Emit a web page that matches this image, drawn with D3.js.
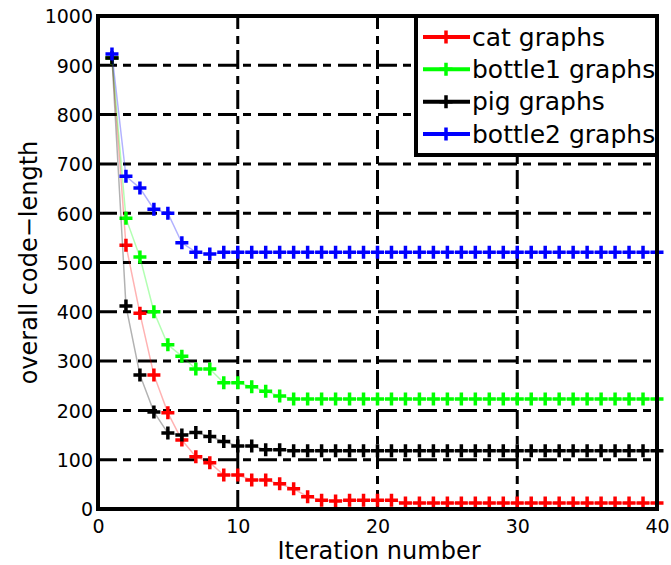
<!DOCTYPE html>
<html>
<head>
<meta charset="utf-8">
<script src="https://cdn.jsdelivr.net/npm/d3@7"></script>
<style>
  html, body { margin: 0; padding: 0; background: #fff; }
  svg { display: block; }
  text { font-family: "DejaVu Sans", Verdana, sans-serif; fill: #000; }
</style>
</head>
<body>
<svg id="chart" width="671" height="565"></svg>
<script>
// Iteration index for every recorded point
const iterations = [1, 2, 3, 4, 5, 6, 7, 8, 9, 10, 11, 12, 13, 14, 15, 16, 17, 18, 19, 20,
                    21, 22, 23, 24, 25, 26, 27, 28, 29, 30, 31, 32, 33, 34, 35, 36, 37, 38, 39, 40];

// Overall code-length per iteration, one array per graph set
const catGraphs = [915, 535, 397, 272, 195, 140, 106, 94, 69, 69, 59, 59, 51, 41, 25, 18, 16, 18, 18, 18,
                   18, 12, 12, 12, 12, 12, 12, 12, 12, 12, 12, 12, 12, 12, 12, 12, 12, 12, 12, 12];
const bottle1Graphs = [915, 590, 511, 400, 333, 310, 284, 284, 256, 256, 248, 239, 229, 223, 223, 223, 223, 223, 223, 223,
                       223, 223, 223, 223, 223, 223, 223, 223, 223, 223, 223, 223, 223, 223, 223, 223, 223, 223, 223, 223];
const pigGraphs = [915, 412, 272, 197, 154, 150, 155, 147, 137, 128, 128, 120, 120, 118, 118, 118, 118, 118, 118, 118,
                   118, 118, 118, 118, 118, 118, 118, 118, 118, 118, 118, 118, 118, 118, 118, 118, 118, 118, 118, 118];
const bottle2Graphs = [923, 675, 651, 608, 600, 540, 521, 517, 521, 521, 521, 521, 521, 521, 521, 521, 521, 521, 521, 521,
                       521, 521, 521, 521, 521, 521, 521, 521, 521, 521, 521, 521, 521, 521, 521, 521, 521, 521, 521, 521];

const seriesNames = ["cat graphs", "bottle1 graphs", "pig graphs", "bottle2 graphs"];
const seriesColors = ["#ff0000", "#00ff00", "#000000", "#0000ff"];
const seriesValues = [catGraphs, bottle1Graphs, pigGraphs, bottle2Graphs];

const xTicks = [0, 10, 20, 30, 40];
const yTicks = [0, 100, 200, 300, 400, 500, 600, 700, 800, 900, 1000];

const xTitle = "Iteration number";
const yTitle = "overall code\u2212length";

// ---- layout ----
const svg = d3.select("#chart");
const plot = { left: 98, right: 657, top: 16, bottom: 509 };

const x = d3.scaleLinear().domain([0, 40]).range([plot.left, plot.right]);
const y = d3.scaleLinear().domain([0, 1000]).range([plot.bottom, plot.top]);

const gridDash = "19 6 8 7";

// horizontal grid lines
svg.append("g")
  .selectAll("line")
  .data(yTicks.filter(v => v > 0 && v < 1000))
  .join("line")
  .attr("x1", plot.left).attr("x2", plot.right)
  .attr("y1", d => y(d)).attr("y2", d => y(d))
  .attr("stroke", "#000").attr("stroke-width", 3)
  .attr("stroke-dasharray", gridDash);

// vertical grid lines
svg.append("g")
  .selectAll("line")
  .data(xTicks.filter(v => v > 0 && v < 40))
  .join("line")
  .attr("x1", d => x(d)).attr("x2", d => x(d))
  .attr("y1", plot.bottom).attr("y2", plot.top)
  .attr("stroke", "#000").attr("stroke-width", 3)
  .attr("stroke-dasharray", gridDash);

// series: thin connecting lines then plus markers
const line = d3.line()
  .x((d, i) => x(iterations[i]))
  .y(d => y(d));

const plusPath = s => {
  const h = s / 2;
  return `M${-h},0H${h}M0,${-h}V${h}`;
};

seriesValues.forEach((vals, k) => {
  const g = svg.append("g");
  g.append("path")
    .attr("d", line(vals))
    .attr("fill", "none")
    .attr("stroke", seriesColors[k])
    .attr("stroke-width", 1.5)
    .attr("stroke-opacity", 0.3);
  g.selectAll("path.mk")
    .data(vals)
    .join("path")
    .attr("class", "mk")
    .attr("transform", (d, i) => `translate(${x(iterations[i])},${y(d)})`)
    .attr("d", plusPath(13))
    .attr("stroke", seriesColors[k])
    .attr("stroke-width", 3.5)
    .attr("fill", "none");
});

// axes frame (drawn over the data)
svg.append("rect")
  .attr("x", plot.left).attr("y", plot.top)
  .attr("width", plot.right - plot.left).attr("height", plot.bottom - plot.top)
  .attr("fill", "none").attr("stroke", "#000").attr("stroke-width", 4);

// tick labels
const xAxis = d3.axisBottom(x).tickValues(xTicks).tickSize(0).tickPadding(0).tickFormat(d3.format("d"));
const gx = svg.append("g").attr("transform", `translate(0,${plot.bottom})`).call(xAxis);
gx.select(".domain").remove();
gx.selectAll("text")
  .attr("dy", null).attr("y", 24)
  .style("font-size", "19px")
  .style("font-family", "'DejaVu Sans', Verdana, sans-serif");

const yAxis = d3.axisLeft(y).tickValues(yTicks).tickSize(0).tickPadding(0).tickFormat(d3.format("d"));
const gy = svg.append("g").attr("transform", `translate(${plot.left},0)`).call(yAxis);
gy.select(".domain").remove();
gy.selectAll("text")
  .attr("x", -5).attr("dy", "0.36em")
  .style("font-size", "19px")
  .style("font-family", "'DejaVu Sans', Verdana, sans-serif");

// axis titles
svg.append("text")
  .attr("x", 379).attr("y", 559)
  .attr("text-anchor", "middle")
  .style("font-size", "24px")
  .text(xTitle);

svg.append("text")
  .attr("transform", `translate(37,${(plot.top + plot.bottom) / 2}) rotate(-90)`)
  .attr("text-anchor", "middle")
  .style("font-size", "24px")
  .text(yTitle);

// legend
const lg = { x: 416, y: 16, w: 241, h: 139 };
svg.append("rect")
  .attr("x", lg.x).attr("y", lg.y).attr("width", lg.w).attr("height", lg.h)
  .attr("fill", "#fff").attr("stroke", "#000").attr("stroke-width", 4);

const rowY = d3.scalePoint().domain(seriesNames).range([37, 134]);
const entries = svg.append("g").selectAll("g")
  .data(seriesNames)
  .join("g")
  .attr("transform", d => `translate(0,${rowY(d)})`);

entries.append("line")
  .attr("x1", 423).attr("x2", 470).attr("y1", 0).attr("y2", 0)
  .attr("stroke", (d, i) => seriesColors[i]).attr("stroke-width", 4);
entries.append("path")
  .attr("transform", "translate(446,0)")
  .attr("d", plusPath(13))
  .attr("stroke", (d, i) => seriesColors[i]).attr("stroke-width", 3.5);
entries.append("text")
  .attr("x", 472).attr("dy", "0.35em")
  .style("font-size", "25px")
  .text(d => d);
</script>
</body>
</html>
